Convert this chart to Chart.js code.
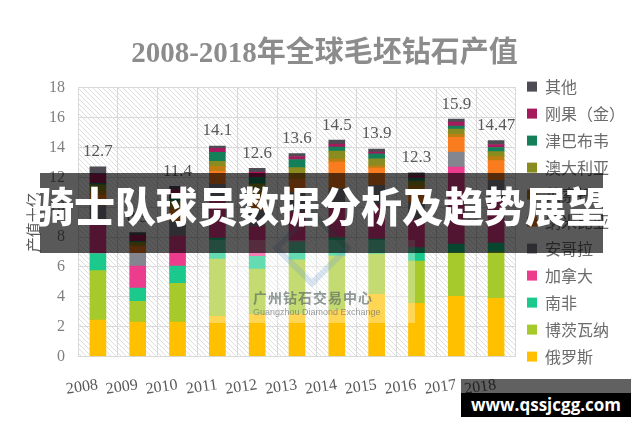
<!DOCTYPE html>
<html><head><meta charset="utf-8">
<script src="https://cdn.jsdelivr.net/npm/chart.js@4.4.1/dist/chart.umd.min.js"></script>
<style>
html,body{margin:0;padding:0;background:#fff;width:640px;height:426px;overflow:hidden;}
#wrap{position:relative;width:640px;height:426px;}
#c{position:absolute;left:0;top:0;}
.pale{position:absolute;left:203px;top:240px;width:212px;height:83px;background:rgba(255,255,255,0.33);}
.logo1{position:absolute;left:284px;top:220px;width:44px;height:44px;transform:rotate(45deg);border:6px solid rgba(120,165,205,0.28);border-top-color:rgba(90,150,125,0.28);}
.logot{position:absolute;left:253px;top:287px;width:116px;text-align:center;font:bold 14px "Noto Sans CJK SC";color:rgba(95,110,105,0.7);letter-spacing:1px;white-space:nowrap;}
.logoe{position:absolute;left:253px;top:307px;width:116px;text-align:center;font:9px "Liberation Sans";color:rgba(110,115,115,0.7);white-space:nowrap;}
.banner{position:absolute;left:40px;top:173px;width:563px;height:80px;background:rgba(0,0,0,0.65);}
.btext{position:absolute;left:0px;top:174px;width:640px;height:80px;line-height:80px;color:#fff;font:900 41px "Noto Sans CJK SC";text-align:center;white-space:nowrap;}
.wm1{position:absolute;left:461px;top:379px;width:170px;height:14px;background:rgba(0,0,0,0.62);}
.wm2{position:absolute;left:461px;top:393px;width:170px;height:24px;background:#000;color:#fff;font:bold 17px "Open Sans";text-align:center;line-height:24px;white-space:nowrap;}
</style></head>
<body><div id="wrap">
<canvas id="c" width="640" height="426"></canvas>
<div class="pale"></div>
<div class="logo1"></div>
<div class="logot">广州钻石交易中心</div>
<div class="logoe">Guangzhou Diamond Exchange</div>
<div class="banner"></div>
<div class="btext">骑士队球员数据分析及趋势展望</div>
<div class="wm1"></div>
<div class="wm2">www.qssjcgg.com</div>
</div>
<script>
const years = ['2008','2009','2010','2011','2012','2013','2014','2015','2016','2017','2018'];
const totalLabels = ['12.7','8.3','11.4','14.1','12.6','13.6','14.5','13.9','12.3','15.9','14.47'];
const russia    = [2.45, 2.3, 2.3, 2.7, 2.83, 2.85, 3.1, 4.17, 3.57, 4.04, 3.9];
const botswana  = [3.3, 1.4, 2.6, 3.83, 3.03, 3.63, 3.65, 2.7, 2.83, 2.9, 3.1];
const southAfrica = [1.15, 0.88, 1.16, 1.4, 0.85, 1.2, 1.2, 1.0, 0.9, 0.6, 0.6];
const canada    = [2.0, 1.48, 2.0, 2.5, 2.0, 2.0, 2.0, 2.3, 1.9, 5.15, 2.9];
const angola    = [1.2, 0.85, 1.0, 1.1, 1.1, 1.3, 1.3, 1.3, 1.1, 1.0, 1.3];
const namibia   = [0.7, 0.45, 0.75, 0.87, 0.9, 0.9, 1.77, 1.15, 0.9, 1.0, 1.32];
const lesotho   = [0.3, 0.1, 0.33, 0.34, 0.45, 0.37, 0.2, 0.15, 0.25, 0.2, 0.27];
const australia = [0.4, 0.2, 0.25, 0.34, 0.4, 0.4, 0.54, 0.47, 0.3, 0.34, 0.34];
const zimbabwe  = [0.1, 0.05, 0.25, 0.6, 0.45, 0.55, 0.27, 0.33, 0.2, 0.2, 0.27];
const drc       = [0.6, 0.4, 0.55, 0.27, 0.35, 0.2, 0.2, 0.13, 0.15, 0.27, 0.2];
const others    = [0.5, 0.2, 0.21, 0.15, 0.24, 0.2, 0.27, 0.2, 0.2, 0.2, 0.27];

const seriesNames = ['俄罗斯','博茨瓦纳','南非','加拿大','安哥拉','纳米比亚','莱索托','澳大利亚','津巴布韦','刚果（金）','其他'];
const seriesData = [russia, botswana, southAfrica, canada, angola, namibia, lesotho, australia, zimbabwe, drc, others];
const seriesColors = ['#FFC000','#A6C92C','#1AC98B','#EC3C8E','#83858F','#F97D1E','#BE7E12','#8A8C20','#13805A','#A51A5C','#4E4B55'];

const serif = '"Liberation Serif", "Noto Sans CJK SC", serif';
const sans = '"Noto Sans CJK SC", sans-serif';

const hatchPlugin = {
  id: 'hatch',
  beforeDraw(chart) {
    const {ctx, chartArea: a} = chart;
    const p = document.createElement('canvas');
    p.width = 5; p.height = 5;
    const pc = p.getContext('2d');
    pc.strokeStyle = '#d6d6d6'; pc.lineWidth = 0.8;
    pc.beginPath(); pc.moveTo(0,0); pc.lineTo(5,5); pc.moveTo(-1,4); pc.lineTo(1,6); pc.moveTo(4,-1); pc.lineTo(6,1); pc.stroke();
    ctx.save();
    ctx.fillStyle = ctx.createPattern(p, 'repeat');
    ctx.fillRect(a.left, a.top, a.right - a.left, a.bottom - a.top);
    ctx.restore();
  }
};

const totalsPlugin = {
  id: 'totals',
  afterDatasetsDraw(chart) {
    const {ctx} = chart;
    const ys = chart.scales.y, xs = chart.scales.x;
    ctx.save();
    ctx.font = '17px ' + serif;
    ctx.fillStyle = '#595959';
    ctx.textAlign = 'center';
    ctx.textBaseline = 'middle';
    years.forEach((yr, i) => {
      let sum = 0;
      seriesData.forEach(s => sum += s[i]);
      ctx.fillText(totalLabels[i], xs.getPixelForValue(i), ys.getPixelForValue(sum) - 15);
    });
    ctx.restore();
  }
};

new Chart(document.getElementById('c'), {
  type: 'bar',
  data: {
    labels: years,
    datasets: seriesNames.map((n, k) => ({
      label: n, data: seriesData[k], backgroundColor: seriesColors[k],
      borderWidth: 0, barThickness: 16
    }))
  },
  options: {
    responsive: false,
    animation: false,
    layout: {padding: {left: 14, right: 5, top: 0, bottom: 8}},
    plugins: {
      title: {display: true, text: '2008-2018年全球毛坯钻石产值', color: '#8c8c8c',
              font: {family: serif, size: 29, weight: 'bold'}, padding: {top: 37, bottom: 16}},
      legend: {position: 'right', reverse: true,
               title: {display: true, text: ' ', font: {size: 1}, padding: {top: 12, bottom: 12}},
               labels: {boxWidth: 10, boxHeight: 10, padding: 11, color: '#6b6b6b',
                        font: {family: sans, size: 16}}},
      tooltip: {enabled: false}
    },
    scales: {
      x: {stacked: true,
          grid: {color: '#d9d9d9', offset: true, drawTicks: false},
          border: {color: '#d9d9d9'},
          ticks: {color: '#595959', font: {family: serif, size: 16}, minRotation: 8, maxRotation: 8, padding: 19}},
      y: {stacked: true, min: 0, max: 18,
          grid: {color: '#d9d9d9', drawTicks: false},
          border: {color: '#d9d9d9'},
          ticks: {stepSize: 2, color: '#7f7f7f', font: {family: serif, size: 16}, padding: 13},
          title: {display: true, text: '产值十亿', color: '#595959', font: {family: sans, size: 15}, padding: {top: 10, bottom: -6}}}
    }
  },
  plugins: [hatchPlugin, totalsPlugin]
});
</script>
</body></html>
